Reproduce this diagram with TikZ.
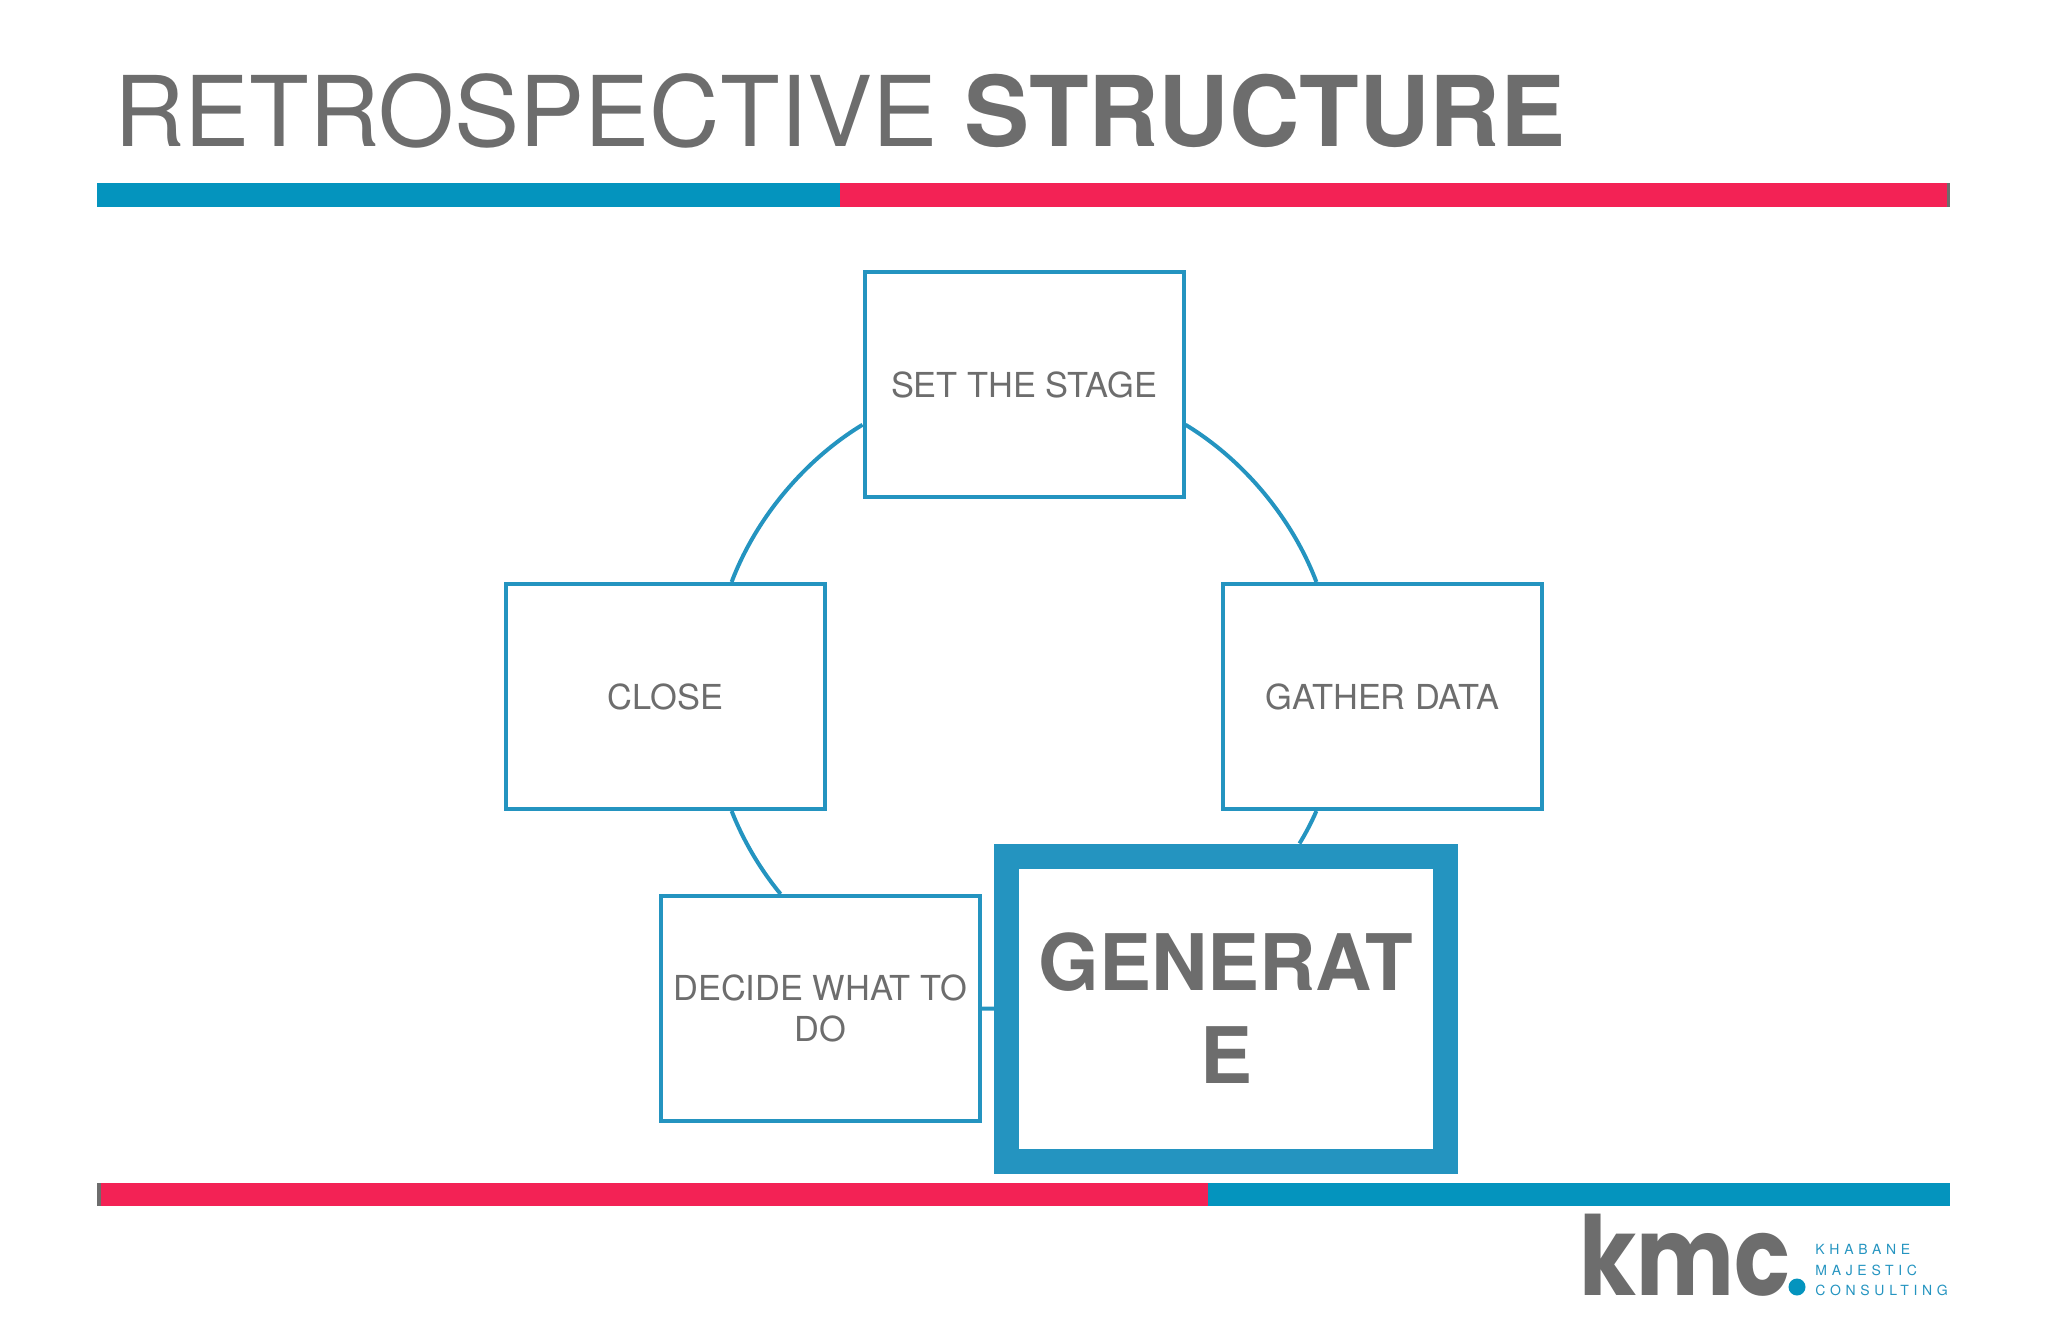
\documentclass[tikz,border=0pt]{standalone}
\usepackage{fontspec}
\setmainfont{TeX Gyre Heros}
\newfontfamily\logofont{Poppins}
\usepackage{graphicx}
\usepackage{tikz}
\definecolor{kmcgrey}{HTML}{6D6D6D}
\definecolor{kmcline}{HTML}{2494C0}
\definecolor{kmcblue}{HTML}{0494BE}
\definecolor{kmcred}{HTML}{F32255}
\tikzset{
	stagebox/.style={shape=rectangle,draw=kmcline,fill=white,line width=2pt,inner sep=0pt,minimum width=159.5pt,minimum height=112.5pt,align=center,text=kmcgrey,font=\fontsize{17.2}{20.8}\selectfont},
	activebox/.style={shape=rectangle,draw=kmcline,fill=white,line width=12.5pt,inner sep=0pt,minimum width=219.5pt,minimum height=152.5pt,align=center,text=kmcgrey,font=\fontsize{39}{46.5}\selectfont\bfseries},
	link/.style={draw=kmcline,line width=2pt,looseness=0.85},
	tagline/.style={anchor=base west,inner sep=0pt,text=kmcline,font=\fontsize{7}{8}\selectfont\addfontfeatures{LetterSpace=33.5}}
}

\begin{document}
\begin{tikzpicture}[x=0.5pt,y=-0.5pt]
	\useasboundingbox (0,0) rectangle (2048,1316);
	
	\node[anchor=base west,inner sep=0pt,text=kmcgrey,font=\fontsize{48.8}{56}\selectfont] (title) at (114,147) {RETROSPECTIVE \textbf{STRUCTURE}};
	
	\fill[kmcgrey] (97,183) rectangle (1950,207);
	\fill[kmcblue] (97,183) rectangle (840,207);
	\fill[kmcred] (840,183) rectangle (1947,207);
	\fill[kmcgrey] (97,1183) rectangle (1950,1206);
	\fill[kmcred] (101,1183) rectangle (1208,1206);
	\fill[kmcblue] (1208,1183) rectangle (1950,1206);
	
	\node[stagebox] (setstage) at (1024,384.5)   {SET THE STAGE};
	\node[stagebox] (gather) at (1382.5,696.5)   {GATHER DATA};
	\node[stagebox] (close) at (665.5,696.5)     {CLOSE};
	\node[stagebox] (decide) at (820,1008.5)     {DECIDE WHAT TO\\DO};
	\node[activebox] (generate) at (1226,1008.5) {GENERAT\\E};
	
	\path[link] (setstage.-14) edge[bend left=19] (gather.120);
	\path[link] (gather.-120) edge[bend left=4] (generate.66);
	\path[link] (generate.west) edge[bend left=1] (decide.east);
	\path[link] (decide.109) edge[bend left=9] (close.-60);
	\path[link] (close.60) edge[bend left=19] (setstage.194);
	
	\node[anchor=base west,inner sep=0pt,text=kmcgrey,font=\logofont\bfseries] (kmc) at (1579,1295) {\scalebox{0.84}[1]{\fontsize{55}{60}\selectfont kmc}};
	\fill[kmcblue] (1797,1287) circle (8.5);
	\node[tagline] (khabane) at (1815,1254) {KHABANE};
	\node[tagline] (majestic) at (1815,1275) {MAJESTIC};
	\node[tagline] (consulting) at (1815,1295) {CONSULTING};
	
\end{tikzpicture}
\end{document}
